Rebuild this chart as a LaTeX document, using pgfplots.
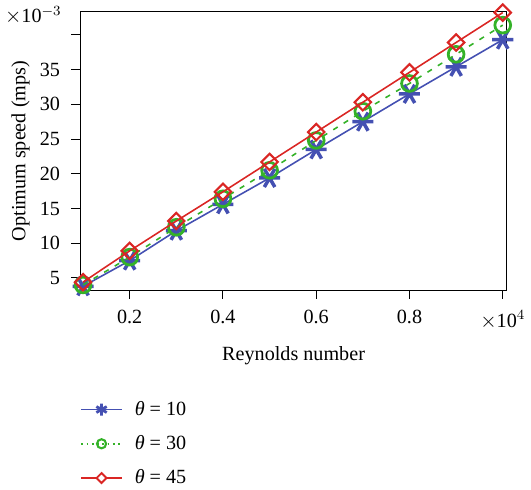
\documentclass[border=0pt]{standalone}
\usepackage{fontspec}
\setmainfont{Liberation Serif}
\usepackage{pgfplots}
\pgfplotsset{compat=1.18}
\definecolor{cblue}{RGB}{68,80,178}
\definecolor{cgreen}{RGB}{52,178,40}
\definecolor{cred}{RGB}{218,38,36}
\begin{document}
\begin{tikzpicture}
\begin{axis}[
  scale only axis,
  width=243.5pt, height=158.8pt,
  xmin=0.094, xmax=1.009,
  ymin=3.24, ymax=43.3,
  xtick={0.2,0.4,0.6,0.8,1.0},
  xticklabels={0.2,0.4,0.6,0.8,$\times$10$^{4}$},
  ytick={5,10,15,20,25,30,35,40},
  yticklabels={5,10,15,20,25,30,35,{}},
  xtick pos=bottom, ytick pos=left,
  tick align=outside,
  major tick length=5pt,
  tick style={black, line width=0.6pt},
  axis line style={line width=0.6pt},
  /pgf/number format/assume math mode=true,
  ticklabel style={font=\fontsize{11.5}{13}\selectfont},
  xticklabel style={yshift=-3pt},
  yticklabel style={xshift=-3pt},
  label style={font=\fontsize{11.5}{13}\selectfont},
  xlabel={Reynolds number},
  ylabel={Optimum speed (mps)},
  xlabel style={yshift=-3pt},
  ylabel style={yshift=-1pt},
  legend style={at={(0,-0.385)}, anchor=north west, draw=none, fill=none,
    font=\fontsize{11.5}{13}\selectfont, row sep=6pt, inner sep=0pt,
    /tikz/every odd column/.append style={column sep=5pt}},
  legend cell align=left,
  legend image code/.code={\draw[mark repeat=2,mark phase=2] plot coordinates {(0pt,0pt)(11.5pt,0pt)(23pt,0pt)};},
  clip mode=individual,
]
\addplot[forget plot, cblue, line width=0.9pt, mark=asterisk, mark size=6pt, mark options={solid, rotate=90, line width=2pt}]
  coordinates {(0.1,3.8)(0.2,7.5)(0.3,11.8)(0.4,15.6)(0.5,19.4)(0.6,23.5)(0.7,27.5)(0.8,31.5)(0.9,35.4)(1.0,39.3)};
\addplot[forget plot, cgreen, line width=0.9pt, dash pattern=on 3pt off 4pt, mark=o, mark size=4.5pt, mark options={solid, line width=1.6pt}]
  coordinates {(0.1,4.0)(0.2,8.0)(0.3,12.3)(0.4,16.4)(0.5,20.5)(0.6,24.8)(0.7,29.0)(0.8,33.0)(0.9,37.2)(1.0,41.4)};
\addplot[forget plot, cred, line width=0.9pt, mark=square, mark size=3.3pt, mark options={solid, rotate=45, line width=1.2pt}]
  coordinates {(0.1,4.4)(0.2,8.9)(0.3,13.2)(0.4,17.4)(0.5,21.7)(0.6,26.0)(0.7,30.3)(0.8,34.6)(0.9,38.9)(1.0,43.2)};
\addlegendimage{cblue, line width=0.9pt, mark=asterisk, mark size=3.4pt, mark options={solid, line width=1.6pt}}
\addlegendentry{\textit{θ} = 10}
\addlegendimage{cgreen, line width=0.9pt, dash pattern=on 1pt off 2pt, mark=o, mark size=2.6pt, mark options={solid, line width=1.2pt}}
\addlegendentry{\textit{θ} = 30}
\addlegendimage{cred, line width=0.9pt, mark=square*, mark size=2pt, mark options={solid, rotate=45, line width=1.1pt, fill=white}}
\addlegendentry{\textit{θ} = 45}
\node[anchor=east, font=\fontsize{11.5}{13}\selectfont, inner sep=0pt] at ([xshift=-10.5pt,yshift=-2pt]rel axis cs:0,1) {$\times$10$^{-3}$};
\end{axis}
\path[use as bounding box] (-45.8pt,-112.4pt) rectangle (254.2pt,165.6pt);
\end{tikzpicture}
\end{document}
